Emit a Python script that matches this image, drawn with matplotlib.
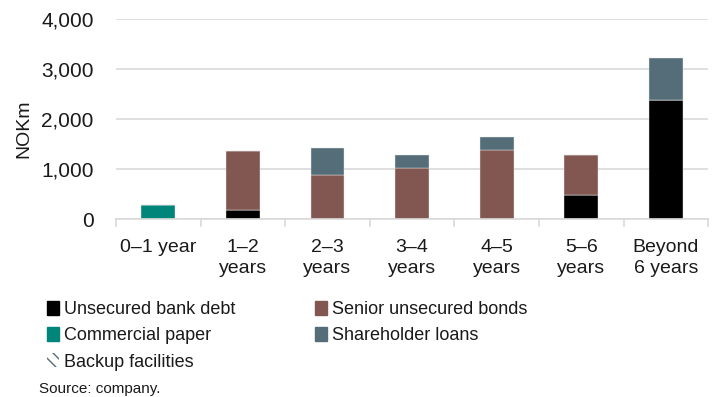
import matplotlib
matplotlib.use("Agg")
import matplotlib.pyplot as plt
from matplotlib.patches import Patch
import numpy as np

plt.rcParams['font.family'] = ['Liberation Sans', 'DejaVu Sans']

# maturity buckets and amounts (NOKm)
buckets = ["0\u20131 year", "1\u20132\nyears", "2\u20133\nyears", "3\u20134\nyears",
           "4\u20135\nyears", "5\u20136\nyears", "Beyond\n6 years"]
bank_debt = [0, 180, 0, 0, 0, 480, 2390]
commercial_paper = [290, 0, 0, 0, 0, 0, 0]
senior_bonds = [0, 1180, 880, 1030, 1390, 810, 0]
shareholder_loans = [0, 0, 540, 260, 250, 0, 840]

c_bank = "#000000"
c_cp = "#00857a"
c_bonds = "#835751"
c_sh = "#546d79"
txt = "#1a1a1a"

fig = plt.figure(figsize=(7.16, 3.97), dpi=100)
ax = fig.add_axes([0.162, 0.448, 0.827, 0.504])

x = np.arange(len(buckets))
w = 0.4
bottom = np.zeros(len(buckets))
for vals, col in [(bank_debt, c_bank), (commercial_paper, c_cp),
                  (senior_bonds, c_bonds), (shareholder_loans, c_sh)]:
    vals = np.array(vals, dtype=float)
    ax.bar(x, vals, w, bottom=bottom, color=col, edgecolor="#e8e8e8", linewidth=0.3)
    bottom += vals

ax.set_xlim(-0.5, len(buckets) - 0.5)
ax.set_ylim(0, 4000)
ax.set_yticks([0, 1000, 2000, 3000, 4000])
ax.set_yticklabels(["0", "1,000", "2,000", "3,000", "4,000"])
ax.yaxis.grid(True, color="#d9d9d9", linewidth=1.2)
ax.set_axisbelow(True)
for s in ["top", "right", "left"]:
    ax.spines[s].set_visible(False)
ax.spines["bottom"].set_color("#d9d9d9")
ax.spines["bottom"].set_linewidth(1.2)
ax.tick_params(axis="y", length=0, labelsize=15, pad=16, colors=txt)
ax.set_xticks(x)
ax.set_xticklabels(buckets, fontsize=14, linespacing=1.35, va="top")
ax.tick_params(axis="x", length=0, labelsize=14, pad=14, colors=txt)
# separators between buckets
for b in np.arange(-0.5, len(buckets), 1.0):
    ax.plot([b, b], [0, -4000 * 0.035], color="#d9d9d9", lw=1.2, clip_on=False)
ax.set_ylabel("NOKm", fontsize=14, color=txt)
ax.yaxis.set_label_coords(-0.142, 0.45)

kw = dict(frameon=False, fontsize=13, handlelength=0.65, handleheight=0.8,
          handletextpad=0.3, labelspacing=0.5,
          borderaxespad=0, borderpad=0, labelcolor=txt)
fig.legend(handles=[Patch(color=c_bank, label="Unsecured bank debt"),
                    Patch(color=c_cp, label="Commercial paper"),
                    Patch(facecolor="white", edgecolor=c_sh, hatch="\\\\\\",
                          linewidth=0, label="Backup facilities")],
           loc="upper left", bbox_to_anchor=(0.066, 0.242), **kw)
fig.legend(handles=[Patch(color=c_bonds, label="Senior unsecured bonds"),
                    Patch(color=c_sh, label="Shareholder loans")],
           loc="upper left", bbox_to_anchor=(0.44, 0.242), **kw)

fig.text(0.055, 0.01, "Source: company.", fontsize=11, color=txt)

fig.savefig("out.png", dpi=100)
